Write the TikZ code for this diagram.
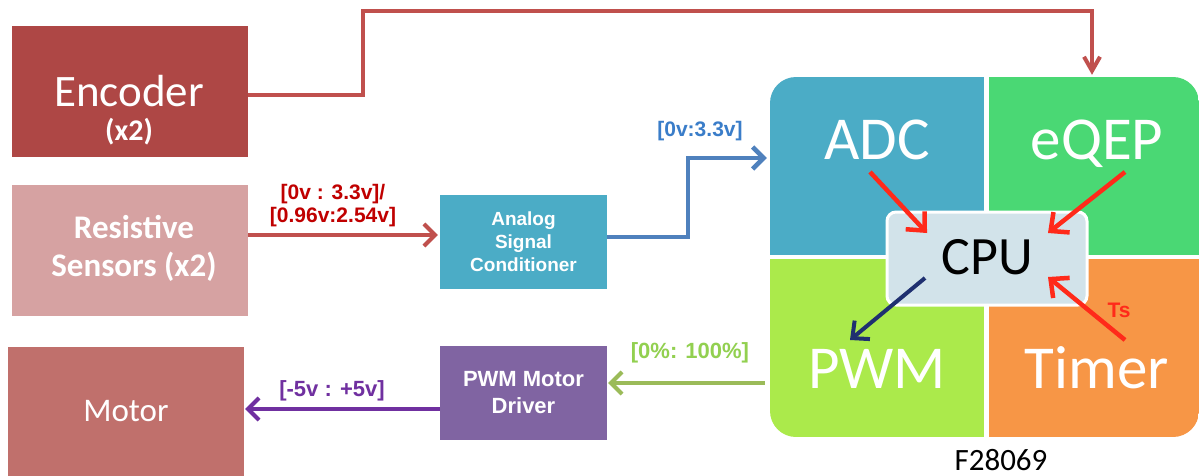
\documentclass[tikz,border=0pt]{standalone}
\usepackage{fontspec}
\setmainfont{Carlito}
\newfontfamily\arialf{Liberation Sans}
\usetikzlibrary{arrows.meta,calc}
\definecolor{encc}{HTML}{AE4745}
\definecolor{sensc}{HTML}{D6A2A2}
\definecolor{motc}{HTML}{C0706C}
\definecolor{arrred}{HTML}{C0504D}
\definecolor{lblred}{HTML}{C00000}
\definecolor{ascc}{HTML}{4BACC6}
\definecolor{arrblue}{HTML}{4F81BD}
\definecolor{lblblue}{HTML}{3A7DC9}
\definecolor{adcc}{HTML}{4BACC6}
\definecolor{eqepc}{HTML}{4AD874}
\definecolor{pwmc}{HTML}{ABEA4B}
\definecolor{timc}{HTML}{F79646}
\definecolor{cpuc}{HTML}{D2E3EA}
\definecolor{pmdc}{HTML}{8064A2}
\definecolor{arrpurp}{HTML}{7030A0}
\definecolor{arrgreen}{HTML}{9BBB59}
\definecolor{lblgreen}{HTML}{92D050}
\definecolor{hotred}{HTML}{FF2A1A}
\definecolor{navyc}{HTML}{1F3070}
\tikzset{
  blk/.style={rectangle, inner sep=0pt, text=white},
  quad/.style={rectangle, inner sep=0pt, minimum height=178pt},
  qlab/.style={inner sep=0pt, text=white, font=\fontsize{61pt}{61pt}\selectfont},
  conn/.style={line width=4pt, -{Straight Barb[length=11pt,width=22pt]}},
  inarr/.style={line width=4.5pt, -{Straight Barb[length=14pt,width=26pt]}},
  vlbl/.style={inner sep=0pt, align=center, font=\arialf\bfseries\fontsize{21pt}{23pt}\selectfont},
  smallbox/.style={blk, align=center, font=\arialf\bfseries\fontsize{19pt}{23pt}\selectfont},
}
\begin{document}
\begin{tikzpicture}[x=1pt,y=-1pt]
\fill[white] (0,0) rectangle (1199,476);
\useasboundingbox (0,0) rectangle (1199,476);

% left blocks
\node[blk, fill=encc, minimum width=236pt, minimum height=131pt] (enc) at (130,91.5) {};
\node[inner sep=0pt, text=white, align=center, font=\fontsize{45pt}{34pt}\selectfont] (enct) at (129,110)
  {Encoder\\{\bfseries\fontsize{30pt}{34pt}\selectfont (x2)}};
\node[blk, fill=sensc, minimum width=236pt, minimum height=131pt] (sens) at (130,250.5) {};
\node[inner sep=0pt, text=white, align=center, font=\bfseries\fontsize{33pt}{38pt}\selectfont] (senst) at (134,248) {Resistive\\Sensors (x2)};
\node[blk, fill=motc, minimum width=236pt, minimum height=129pt, font=\fontsize{33pt}{33pt}\selectfont] (motor) at (126,411.5) {Motor};

% middle blocks
\node[smallbox, fill=ascc, minimum width=167pt, minimum height=94pt] (asc) at (523.5,242) {Analog\\Signal\\Conditioner};
\node[blk, fill=pmdc, minimum width=167pt, minimum height=94pt, align=center, font=\arialf\bfseries\fontsize{22pt}{27pt}\selectfont] (pmd) at (523.5,393) {PWM Motor\\Driver};

% F28069 quadrants
\begin{scope}
\clip[rounded corners=26pt] (770,77) rectangle (1199,437);
\node[quad, fill=adcc, minimum width=214pt] (adc) at (877,166) {};
\node[quad, fill=eqepc, minimum width=210pt] (eqep) at (1094,166) {};
\node[quad, fill=pwmc, minimum width=214pt] (pwm) at (877,348) {};
\node[quad, fill=timc, minimum width=210pt] (timer) at (1094,348) {};
\end{scope}
\node[qlab, anchor=base] (adct) at (877,160) {ADC};
\node[qlab, anchor=base] (eqept) at (1097,160) {eQEP};
\node[qlab, anchor=base] (pwmt) at (877,388) {PWM};
\node[qlab, anchor=base] (timert) at (1097,388) {Timer};
\node[rectangle, rounded corners=9pt, fill=cpuc, draw=white, line width=3pt,
  minimum width=200pt, minimum height=93pt, inner sep=0pt,
  font=\fontsize{54pt}{54pt}\selectfont] (cpu) at (987,258.5) {\raisebox{4pt}{CPU}};
\node[inner sep=0pt, font=\fontsize{31pt}{31pt}\selectfont, anchor=base] (chip) at (1001,470) {F28069};

% internal arrows
\coordinate (a1) at (870,172); \coordinate (a2) at (927,233);
\coordinate (e1) at (1125,172); \coordinate (e2) at (1048,233);
\coordinate (t1) at (1125,340); \coordinate (t2) at (1048,277);
\coordinate (p1) at (925,278); \coordinate (p2) at (850,340);
\draw[inarr, hotred] (a1) -- (a2);
\draw[inarr, hotred] (e1) -- (e2);
\draw[inarr, hotred] (t1) -- (t2);
\draw[line width=4pt, navyc, -{Straight Barb[length=13pt,width=24pt]}] (p1) -- (p2);
\node[text=hotred, inner sep=0pt, font=\arialf\bfseries\fontsize{21pt}{21pt}\selectfont] (ts) at (1119,310) {Ts};

% connectors
\draw[line width=4pt, arrred, -{Straight Barb[length=14pt,width=16pt]}, shorten >=2pt]
  ([yshift=-3.5pt]enc.east) -- ++(115,0) |- (1092,11) -- (1092,0 |- eqep.north);
\draw[conn, arrred, shorten >=2pt] ([yshift=15.5pt]sens.east) coordinate (s1) -- (s1 -| asc.west);
\node[vlbl, text=lblred] (slbl) at (333,206) {[0v : 3.3v]/\\{}[0.96v:2.54v]};
\draw[conn, arrblue, line width=4.5pt, shorten >=3pt] ([yshift=5pt]asc.east) -- ++(81,0) |- ([yshift=8pt]adc.west);
\node[vlbl, text=lblblue, font=\arialf\bfseries\fontsize{21pt}{21pt}\selectfont] (blbl) at (700,131) {[0v:3.3v]};
\draw[conn, arrgreen, shorten <=5pt, shorten >=1pt] ([yshift=-35pt]pwm.west) coordinate (g1) -- (g1 -| pmd.east);
\node[vlbl, text=lblgreen, font=\arialf\bfseries\fontsize{22pt}{22pt}\selectfont] (glbl) at (690,353) {[0\%: 100\%]};
\draw[conn, arrpurp, shorten >=1pt] ([yshift=-16pt]pmd.west) coordinate (m1) -- (m1 -| motor.east);
\node[vlbl, text=arrpurp, font=\arialf\bfseries\fontsize{22pt}{22pt}\selectfont] (plbl) at (332,391) {[-5v : +5v]};
\end{tikzpicture}
\end{document}
